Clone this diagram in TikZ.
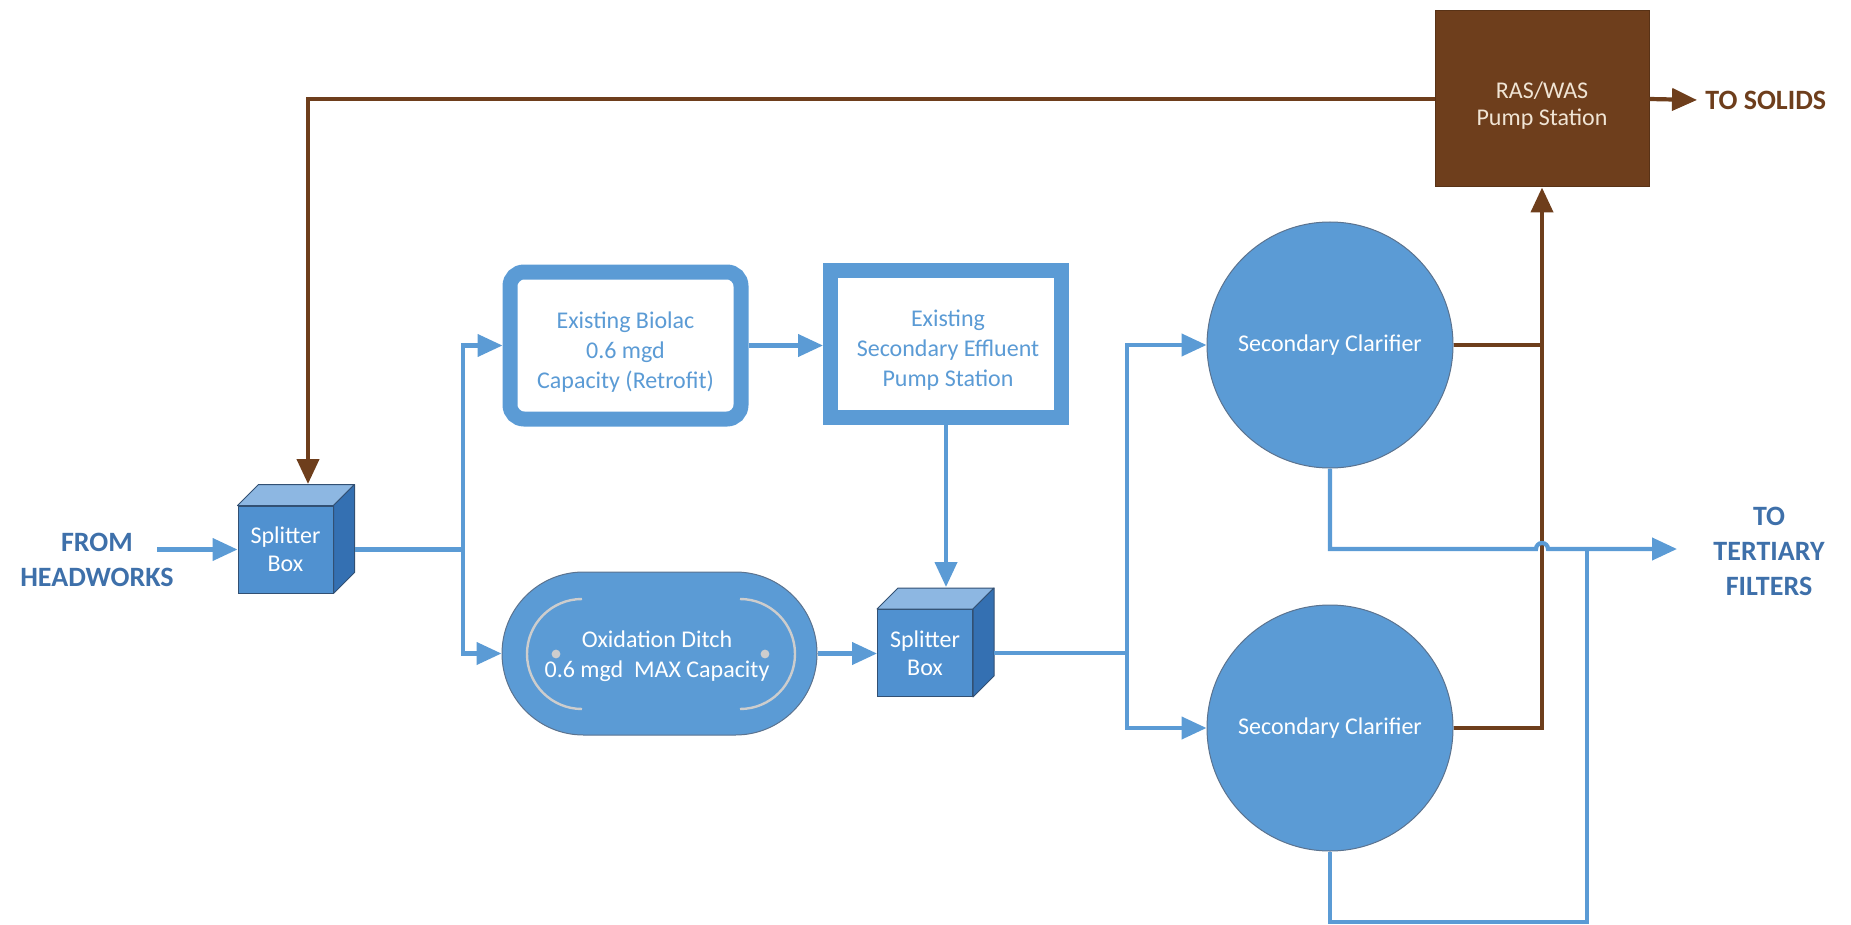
\documentclass[tikz,border=0pt]{standalone}
\usepackage{fontspec}
\setmainfont{Carlito}
\usetikzlibrary{arrows.meta,shapes.misc,calc}
\definecolor{ablue}{RGB}{91,155,213}
\definecolor{tblue}{RGB}{62,112,170}
\definecolor{edgeblue}{RGB}{50,80,115}
\definecolor{brn}{RGB}{110,62,28}
\definecolor{cream}{RGB}{240,228,212}
\definecolor{ggray}{RGB}{205,205,205}
\definecolor{cubetop}{RGB}{141,183,226}
\definecolor{cubeside}{RGB}{52,112,178}
\definecolor{cubefront}{RGB}{80,145,208}
\newcommand{\mycubefaces}[1]{%
  \filldraw[fill=cubetop,draw=edgeblue,line width=0.5pt,line join=round]
    (#1.north west) -- ++(21,-21) -- ($(#1.north east)+(21,-21)$) -- (#1.north east) -- cycle;
  \filldraw[fill=cubeside,draw=edgeblue,line width=0.5pt,line join=round]
    (#1.north east) -- ++(21,-21) -- ($(#1.south east)+(21,-21)$) -- (#1.south east) -- cycle;}
\begin{document}
\begin{tikzpicture}[x=0.5pt,y=-0.5pt,
  pipe/.style={draw=ablue,line width=2.1pt},
  flow/.style={pipe,-{Triangle[length=12.5pt,width=11pt]}},
  ras/.style={draw=brn,line width=2.1pt},
  rasflow/.style={ras,-{Triangle[length=12.5pt,width=11pt]}},
  body/.style={font=\fontsize{12pt}{15pt}\selectfont,align=center,inner sep=0pt},
  label/.style={font=\fontsize{14pt}{17.5pt}\selectfont\bfseries,align=center},
  thickbox/.style={body,draw=ablue,fill=white,line width=7.5pt,
    minimum width=115.5pt,minimum height=73.5pt},
  cube/.style={body,font=\fontsize{12pt}{14pt}\selectfont,fill=cubefront,draw=edgeblue,
    line width=0.5pt,text=white,minimum width=47.5pt,minimum height=43.5pt},
  clar/.style={body,circle,fill=ablue,draw=edgeblue!80,line width=0.5pt,text=white,
    minimum size=123pt}
]
\useasboundingbox (0,0) rectangle (1851,925);

% nodes
\node[label,text=tblue] (from) at (97,560) {FROM\\HEADWORKS};
\coordinate (hw) at (157,549.5);
\node[cube] (s1) at (285.5,549.5) {Splitter\\Box};
\mycubefaces{s1}
\coordinate (s1top) at (308,484);

\node[thickbox,rounded corners=7pt] (bio) at (625.5,345.5) {};
\node[body,text=ablue] (biotext) at (625.5,352.5)
  {Existing Biolac\\0.6 mgd\\Capacity (Retrofit)};
\node[thickbox] (eff) at (946,344) {};
\node[body,text=ablue] (efftext) at (948,350)
  {Existing\\Secondary Effluent\\Pump Station};

\node[body,rounded rectangle,fill=ablue,draw=edgeblue!80,line width=0.5pt,
  minimum width=157.5pt,minimum height=81.5pt] (ditch) at (659.5,653.5) {};
\draw[ggray,line width=1.2pt] (582,599) arc[start angle=90,end angle=270,radius=27.5pt];
\draw[ggray,line width=1.2pt] (740,599) arc[start angle=90,end angle=-90,radius=27.5pt];
\fill[ggray] (556,654) circle[radius=2.2pt];
\fill[ggray] (765,654) circle[radius=2.2pt];
\node[body,text=white] (ditchtext) at (657,656) {Oxidation Ditch\\0.6 mgd\ \ MAX Capacity};

\node[cube] (s2) at (925,653) {Splitter\\Box};
\mycubefaces{s2}
\coordinate (s2top) at (946,587);

\node[clar] (c1) at (1330,345) {Secondary Clarifier};
\node[clar] (c2) at (1330,728) {Secondary Clarifier};

\node[body,fill=brn,draw=brn!80!black,line width=0.5pt,
  minimum width=107pt,minimum height=88pt] (ras) at (1542,99) {};
\node[body,text=cream,font=\fontsize{12pt}{13.5pt}\selectfont] (rastext) at (1542,106)
  {RAS/WAS\\Pump Station};
\node[label,text=brn,anchor=west,inner sep=4pt] (solids) at (1697,100) {TO SOLIDS};
\node[label,text=tblue] (tert) at (1769,551) {TO\\TERTIARY\\FILTERS};
\coordinate (tertin) at (1677,549);

% connectors (blue)
\draw[flow] (hw) -- (s1.west);
\coordinate (j1) at (463,549.5);
\draw[pipe] ($(s1.east)+(21,0)$) -- (j1);
\draw[flow] (j1) |- (bio.west);
\draw[flow] (j1) |- (ditch.west);
\draw[flow] (bio.east) -- (bio.east -| eff.west);
\draw[flow] (eff.south) -- (s2top);
\draw[flow] (ditch.east) -- (ditch.east -| s2.west);
\coordinate (j2) at (1127,653);
\draw[pipe] ($(s2.east)+(21,0)$) -- (j2);
\draw[flow] (j2) |- (c1.west);
\draw[flow] (j2) |- (c2.west);

% brown RAS/WAS lines
\draw[rasflow] (ras.west) -| (s1top);
\draw[rasflow] (ras.east) -- (solids.west);
\draw[ras] (c1.east) -- (c1.east -| ras.south);
\draw[rasflow] (c2.east) -| (ras.south);

% effluent to tertiary
\coordinate (k1) at (1330,549);
\coordinate (k2) at (1587,549);
\draw[flow] (c1.south) -- (k1) -- (1536,549) arc[start angle=180,end angle=0,radius=3pt] -- (tertin);
\draw[pipe] (c2.south) -- (1330,922) -| (k2);
\end{tikzpicture}
\end{document}
